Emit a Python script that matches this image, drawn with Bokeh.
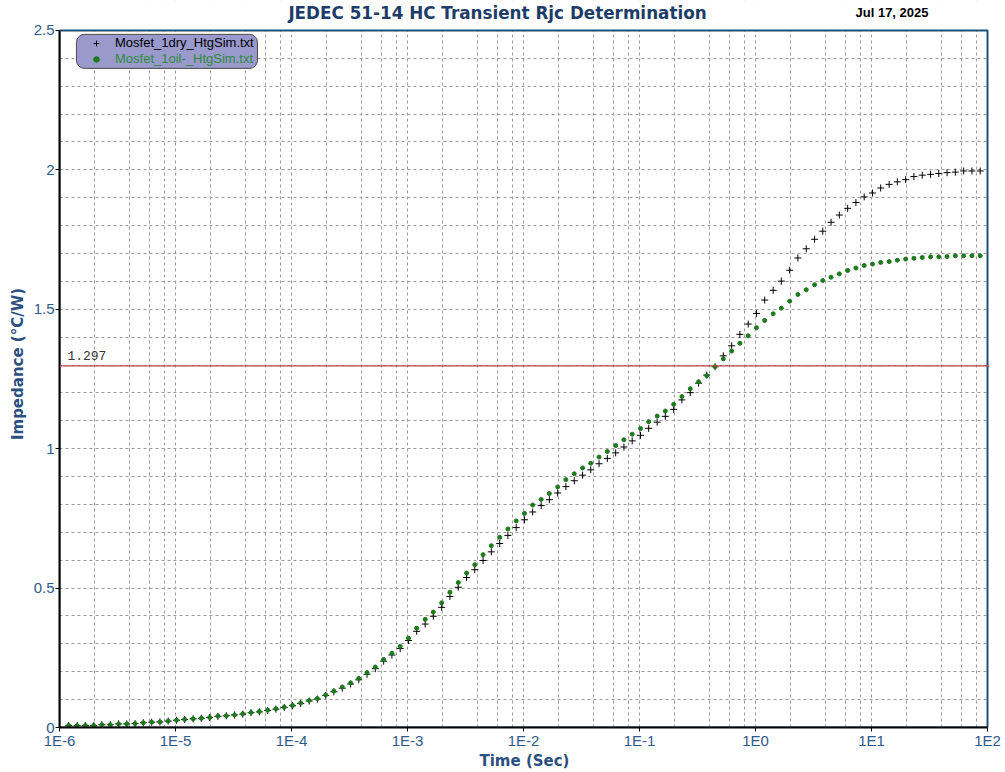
from bokeh.plotting import figure
from bokeh.models import FixedTicker, Span, Label, Legend, LegendItem, BoxAnnotation
from bokeh.embed import file_html
from bokeh.resources import INLINE

# ---------------- data ----------------
time_s = [
    1.20e-6, 1.42e-6, 1.67e-6, 1.97e-6, 2.32e-6, 2.74e-6, 3.23e-6, 3.80e-6, 4.48e-6, 5.28e-6, 6.23e-6, 7.34e-6, 8.65e-6, 1.02e-5,
    1.20e-5, 1.42e-5, 1.67e-5, 1.97e-5, 2.32e-5, 2.74e-5, 3.23e-5, 3.80e-5, 4.48e-5, 5.28e-5, 6.23e-5, 7.34e-5, 8.65e-5, 1.02e-4,
    1.20e-4, 1.42e-4, 1.67e-4, 1.97e-4, 2.32e-4, 2.74e-4, 3.23e-4, 3.80e-4, 4.48e-4, 5.28e-4, 6.23e-4, 7.34e-4, 8.65e-4, 1.02e-3,
    1.20e-3, 1.42e-3, 1.67e-3, 1.97e-3, 2.32e-3, 2.74e-3, 3.23e-3, 3.80e-3, 4.48e-3, 5.28e-3, 6.23e-3, 7.34e-3, 8.65e-3, 1.02e-2,
    1.20e-2, 1.42e-2, 1.67e-2, 1.97e-2, 2.32e-2, 2.74e-2, 3.23e-2, 3.80e-2, 4.48e-2, 5.28e-2, 6.23e-2, 7.34e-2, 8.65e-2, 1.02e-1,
    1.20e-1, 1.42e-1, 1.67e-1, 1.97e-1, 2.32e-1, 2.74e-1, 3.23e-1, 3.80e-1, 4.48e-1, 5.28e-1, 6.23e-1, 7.34e-1, 8.65e-1, 1.02,
    1.20, 1.42, 1.67, 1.97, 2.32, 2.74, 3.23, 3.80, 4.48, 5.28, 6.23, 7.34, 8.65, 10.2,
    12.0, 14.2, 16.7, 19.7, 23.2, 27.4, 32.3, 38.0, 44.8, 52.8, 62.3, 73.4, 86.5,
]

z_dry = [
    0.007, 0.007, 0.007, 0.007, 0.010, 0.010, 0.013, 0.013, 0.014, 0.017, 0.019, 0.020, 0.023, 0.026,
    0.029, 0.031, 0.033, 0.036, 0.040, 0.042, 0.045, 0.048, 0.053, 0.056, 0.061, 0.066, 0.072, 0.078,
    0.086, 0.095, 0.102, 0.115, 0.128, 0.141, 0.156, 0.171, 0.191, 0.211, 0.238, 0.260, 0.283, 0.312,
    0.345, 0.371, 0.399, 0.431, 0.470, 0.503, 0.538, 0.566, 0.599, 0.630, 0.660, 0.689, 0.717, 0.745,
    0.773, 0.796, 0.817, 0.841, 0.864, 0.885, 0.905, 0.924, 0.946, 0.965, 0.985, 1.006, 1.028, 1.048,
    1.073, 1.095, 1.116, 1.141, 1.175, 1.201, 1.235, 1.264, 1.294, 1.333, 1.369, 1.410, 1.447, 1.485,
    1.533, 1.568, 1.601, 1.640, 1.684, 1.717, 1.751, 1.780, 1.812, 1.838, 1.862, 1.883, 1.903, 1.917,
    1.935, 1.948, 1.957, 1.965, 1.976, 1.981, 1.984, 1.987, 1.990, 1.992, 1.996, 1.996, 1.996,
]

z_oil = [
    0.007, 0.007, 0.007, 0.007, 0.010, 0.010, 0.013, 0.013, 0.014, 0.017, 0.019, 0.020, 0.023, 0.026,
    0.029, 0.031, 0.033, 0.036, 0.041, 0.042, 0.045, 0.049, 0.054, 0.057, 0.062, 0.067, 0.073, 0.079,
    0.088, 0.097, 0.104, 0.117, 0.131, 0.145, 0.160, 0.176, 0.197, 0.217, 0.244, 0.266, 0.291, 0.320,
    0.356, 0.388, 0.414, 0.447, 0.485, 0.520, 0.554, 0.584, 0.620, 0.652, 0.682, 0.712, 0.741, 0.768,
    0.798, 0.818, 0.839, 0.863, 0.889, 0.910, 0.931, 0.948, 0.970, 0.990, 1.011, 1.032, 1.052, 1.072,
    1.097, 1.117, 1.135, 1.159, 1.187, 1.215, 1.240, 1.262, 1.294, 1.322, 1.350, 1.378, 1.405, 1.434,
    1.460, 1.484, 1.504, 1.529, 1.553, 1.570, 1.588, 1.603, 1.615, 1.627, 1.639, 1.648, 1.657, 1.662,
    1.668, 1.671, 1.676, 1.680, 1.683, 1.686, 1.688, 1.688, 1.689, 1.692, 1.692, 1.692, 1.692,
]

series_names = ["Mosfet_1dry_HtgSim.txt", "Mosfet_1oil-_HtgSim.txt"]
rjc_level = 1.297
rjc_text = "1.297"

x_ticks = [1e-6, 1e-5, 1e-4, 1e-3, 1e-2, 1e-1, 1e0, 1e1, 1e2]
x_tick_labels = ["1E-6", "1E-5", "1E-4", "1E-3", "1E-2", "1E-1", "1E0", "1E1", "1E2"]
y_ticks = [0, 0.5, 1.0, 1.5, 2.0, 2.5]
y_tick_labels = ["0", "0.5", "1", "1.5", "2", "2.5"]

title_text = "JEDEC 51-14 HC Transient Rjc Determination"
date_text = "Jul 17, 2025"

# ---------------- styles ----------------
NAVY = "#1D3C68"
AXIS_LABEL = "#2B5080"
TICK_LABEL = "#2E5A8C"
GREEN = "#1C7A1C"
BORDER_BLUE = "#1F4E79"

X_MIN, X_MAX = 1e-6, 1e2
Y_MIN, Y_MAX = 0.0, 2.5
PX_PER_DECADE = 116.0
PX_PER_UNIT = 279.2
TOP_PAD = 30    # px of headroom above the plot area (title row)
RIGHT_PAD = 2   # px beyond 1E2 so the border line is fully visible

y_top = Y_MAX + TOP_PAD / PX_PER_UNIT
x_right = 10 ** (2 + RIGHT_PAD / PX_PER_DECADE)

p = figure(
    width=1005, height=772,
    x_axis_type="log", x_range=(X_MIN, x_right), y_range=(Y_MIN, y_top),
    output_backend="svg", toolbar_location=None,
    min_border_left=59, min_border_right=16, min_border_top=0, min_border_bottom=44,
    background_fill_color="white", border_fill_color="white",
)
p.outline_line_color = None

# grids
minor_x = []
for d in x_ticks[:-1]:
    for m in (1, 2, 4, 6, 8):
        minor_x.append(d * m)
p.xgrid.ticker = FixedTicker(ticks=minor_x[1:])
p.ygrid.ticker = FixedTicker(ticks=[round(0.1 * i, 1) for i in range(1, 25)])
for g in (p.xgrid, p.ygrid):
    g.grid_line_color = "#9a9a9a"
    g.grid_line_dash = "3 3"
    g.grid_line_width = 1

# white cover above the plot area, and the blue plot-area border
p.add_layout(BoxAnnotation(bottom=Y_MAX, top=y_top + 1, left=X_MIN / 10, right=x_right * 10,
                           fill_color="white", fill_alpha=1.0, line_color=None, level="underlay"))
p.add_layout(BoxAnnotation(bottom=Y_MIN, top=Y_MAX, left=X_MIN, right=X_MAX,
                           fill_alpha=0, fill_color=None, line_color=BORDER_BLUE, line_alpha=1.0,
                           line_width=2, level="underlay"))

# axes
p.xaxis.ticker = FixedTicker(ticks=x_ticks)
p.xaxis.major_label_overrides = dict(zip(x_ticks, x_tick_labels))
p.yaxis.ticker = FixedTicker(ticks=y_ticks)
p.yaxis.major_label_overrides = dict(zip(y_ticks, y_tick_labels))
p.xaxis.bounds = (X_MIN, X_MAX)
p.yaxis.bounds = (Y_MIN, Y_MAX)
p.xaxis.axis_label = "Time (Sec)"
p.yaxis.axis_label = "Impedance (\u00b0C/W)"
for ax in (p.xaxis, p.yaxis):
    ax.axis_line_color = "black"
    ax.axis_line_width = 2
    ax.major_tick_line_color = "black"
    ax.major_tick_line_width = 1
    ax.major_tick_out = 4
    ax.major_tick_in = 0
    ax.minor_tick_line_color = None
    ax.major_label_text_font = "Liberation Sans"
    ax.major_label_text_font_size = "15px"
    ax.major_label_text_color = TICK_LABEL
    ax.axis_label_text_font = "DejaVu Sans"
    ax.axis_label_text_font_style = "bold"
    ax.axis_label_text_font_size = "15px"
    ax.axis_label_text_color = AXIS_LABEL
p.xaxis.major_label_standoff = 0
p.xaxis.axis_label_standoff = 0
p.yaxis.major_label_standoff = 1
p.yaxis.axis_label_standoff = 4

# data
r_dry = p.scatter(time_s, z_dry, marker="cross", size=7, line_color="black", line_width=1)
r_oil = p.scatter(time_s, z_oil, marker="circle", size=4, fill_color=GREEN, line_color=GREEN)

# Rjc line
p.add_layout(Span(location=rjc_level, dimension="width", line_color="#C0404A", line_width=1.3))
p.add_layout(Label(x=1.17e-6, y=1.336, text=rjc_text, text_font="Liberation Mono", text_font_size="13px",
                   text_color="#333333", text_baseline="middle", text_align="left"))

# title + date (in the headroom above the plot area)
p.add_layout(Label(x=5.97e-3, y=y_top - 13 / PX_PER_UNIT, text=title_text, text_font="DejaVu Sans",
                   text_font_style="bold", text_font_size="16.8px", text_color=NAVY,
                   text_align="center", text_baseline="middle"))
p.add_layout(Label(x=7.28, y=y_top - 12 / PX_PER_UNIT, text=date_text, text_font="Liberation Sans",
                   text_font_style="bold", text_font_size="13px", text_color="black",
                   text_align="left", text_baseline="middle"))

# legend background
box = BoxAnnotation(left=1.40e-6, right=5.09e-5, top=2.486, bottom=2.364,
                    fill_color="#9999CC", fill_alpha=1.0, line_color="#4a4a4a", line_alpha=1.0,
                    line_width=1)
if "border_radius" in BoxAnnotation.properties():
    box.border_radius = 8
p.add_layout(box)

def make_legend(label, renderer, color, loc):
    return Legend(items=[LegendItem(label=label, renderers=[renderer])], location=loc,
                  background_fill_alpha=0, border_line_alpha=0, padding=0, margin=0, spacing=0,
                  glyph_width=14, glyph_height=14, label_height=14, label_standoff=12,
                  label_text_font="Liberation Sans", label_text_font_size="13px", label_text_color=color)

p.add_layout(make_legend(series_names[0], r_dry, "black", (30, 677)))
p.add_layout(make_legend(series_names[1], r_oil, "#2E8B3E", (30, 661)))

open("out.html", "w").write(file_html(p, INLINE))
